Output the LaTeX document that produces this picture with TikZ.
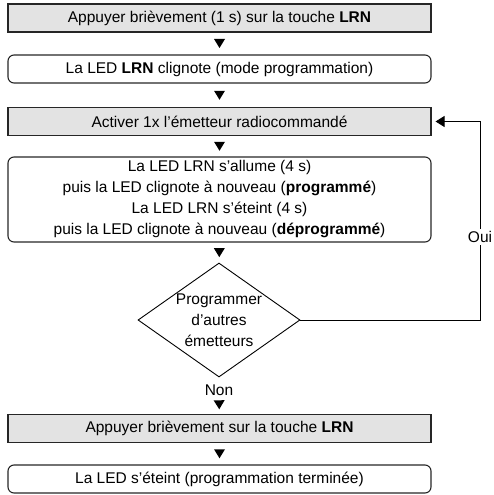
\documentclass[tikz,border=0pt]{standalone}
\usepackage{fontspec}
\setmainfont{Liberation Sans}
\usetikzlibrary{shapes.geometric, arrows.meta, decorations.markings}

\begin{document}
\begin{tikzpicture}[
       x = 1pt, y = -1pt,
    font = \fontsize{15.5}{21}\selectfont,
       > = {Triangle[length=9pt, width=11pt]},
action/.style = {draw=black!85, line width=1.1pt, fill=black!11,
                 minimum width=423pt, minimum height=28pt, inner sep=0pt},
 state/.style = {draw=black!85, line width=1.1pt, rounded corners=6pt,
                 align=center, minimum width=423pt, minimum height=28pt, inner sep=0pt},
choice/.style = {draw, line width=0.9pt, diamond,
                 minimum width=162pt, minimum height=114pt, inner sep=0pt},
  flow/.style = {decoration={markings, mark=at position 0.5 with
                 {\fill (-4.5pt,-5.5pt) -- (4.5pt,0pt) -- (-4.5pt,5.5pt) -- cycle;}},
                 postaction={decorate}}
                        ]
\useasboundingbox (0,0) rectangle (493,495);
% steps
    \node[action] (press)    at (219.5,18)    {Appuyer brièvement (1 s) sur la touche \textbf{LRN}};
    \node[state]  (blink)    at (219.5,69)    {La LED \textbf{LRN} clignote (mode programmation)};
    \node[action] (emit)     at (219.5,121.5) {Activer 1x l’émetteur radiocommandé};
    \node[state, minimum height=85pt] (result) at (219.5,199.5)
        {La LED LRN s’allume (4 s)\\puis la LED clignote à nouveau (\textbf{programmé})\\
         La LED LRN s’éteint (4 s)\\puis la LED clignote à nouveau (\textbf{déprogrammé})};
    \node[choice] (more)     at (219,320) {};
    \node[align=center, inner sep=0pt] (moretext) at (more) {Programmer\\d’autres\\émetteurs};
    \node[inner sep=0pt] (no) at (219,390) {Non};
    \node[action] (pressend) at (219.5,428.5) {Appuyer brièvement sur la touche \textbf{LRN}};
    \node[state]  (done)     at (219.5,479)   {La LED s’éteint (programmation terminée)};
% arrows
    \path[flow] (press) -- (blink);
    \path[flow] (blink) -- (emit);
    \path[flow] (emit) -- (result);
    \path[flow] (result) -- (more);
    \path[flow] (no) -- (pressend);
    \path[flow] (pressend) -- (done);
% loop back
\coordinate (back) at (480,121.5);
    \draw[->, line width=0.9pt, shorten >=4pt] (more.east) -| (back) -- (emit.east);
    \node[fill=white, inner sep=2pt] (yes) at (480,237) {Oui};
\end{tikzpicture}
\end{document}
